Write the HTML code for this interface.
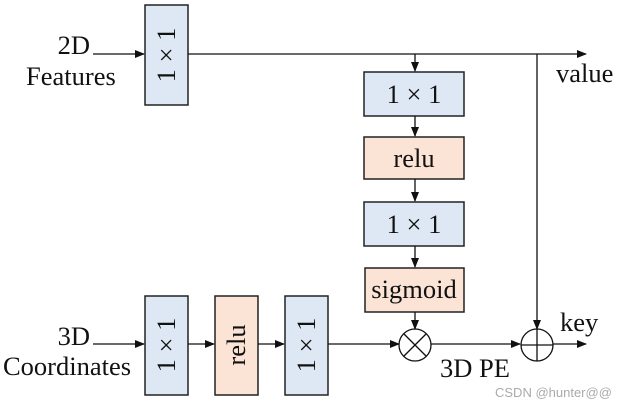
<!DOCTYPE html>
<html><head><style>body{margin:0;background:#fff}</style></head><body>
<svg width="622" height="407" viewBox="0 0 622 407" xmlns="http://www.w3.org/2000/svg" font-family="Liberation Serif, serif" font-size="26.5" fill="#111">
<defs><marker id="a" markerWidth="10" markerHeight="8" refX="9" refY="4" orient="auto" markerUnits="userSpaceOnUse"><path d="M0,0 L10,4 L0,8Z" fill="#111"/></marker></defs>
<g stroke="#222" stroke-width="1.5">
<rect x="145" y="5" width="43" height="100" fill="#dde8f4"/>
<rect x="364" y="72" width="100" height="44" fill="#dde8f4"/>
<rect x="364" y="137" width="100" height="42" fill="#fbe3d5"/>
<rect x="364" y="202" width="100" height="44" fill="#dde8f4"/>
<rect x="365" y="268" width="99" height="44" fill="#fbe3d5"/>
<rect x="145" y="296" width="43" height="99" fill="#dde8f4"/>
<rect x="215" y="296" width="43" height="99" fill="#fbe3d5"/>
<rect x="285" y="296" width="43" height="99" fill="#dde8f4"/>
</g>
<g stroke="#111" stroke-width="1.3" fill="none">
<line x1="93" y1="54" x2="144" y2="54" marker-end="url(#a)"/>
<line x1="188" y1="54" x2="586" y2="54" marker-end="url(#a)"/>
<line x1="415" y1="54" x2="415" y2="71" marker-end="url(#a)"/>
<line x1="415" y1="116" x2="415" y2="136" marker-end="url(#a)"/>
<line x1="415" y1="179" x2="415" y2="201" marker-end="url(#a)"/>
<line x1="415" y1="246" x2="415" y2="267" marker-end="url(#a)"/>
<line x1="415" y1="312" x2="415" y2="329" marker-end="url(#a)"/>
<line x1="537" y1="54" x2="537" y2="329" marker-end="url(#a)"/>
<line x1="93" y1="344" x2="144" y2="344" marker-end="url(#a)"/>
<line x1="188" y1="344" x2="214" y2="344" marker-end="url(#a)"/>
<line x1="258" y1="344" x2="284" y2="344" marker-end="url(#a)"/>
<line x1="328" y1="344" x2="399" y2="344" marker-end="url(#a)"/>
<line x1="431" y1="344" x2="520" y2="344" marker-end="url(#a)"/>
<line x1="553" y1="344" x2="586" y2="344" marker-end="url(#a)"/>
<circle cx="415" cy="345" r="16"/>
<line x1="404" y1="334" x2="426" y2="356"/><line x1="426" y1="334" x2="404" y2="356"/>
<circle cx="537" cy="345" r="16"/>
<line x1="521" y1="345" x2="553" y2="345"/><line x1="537" y1="329" x2="537" y2="361"/>
</g>
<text x="90" y="54" text-anchor="end">2D</text>
<text x="26" y="85">Features</text>
<text x="90" y="345" text-anchor="end">3D</text>
<text x="3" y="375">Coordinates</text>
<text x="556" y="82">value</text>
<text x="560" y="331">key</text>
<text x="440" y="377">3D PE</text>
<text x="414" y="103" text-anchor="middle">1 × 1</text>
<text x="414" y="167" text-anchor="middle">relu</text>
<text x="414" y="233" text-anchor="middle">1 × 1</text>
<text x="414" y="298" text-anchor="middle">sigmoid</text>
<text transform="translate(175,55) rotate(-90)" text-anchor="middle">1 × 1</text>
<text transform="translate(175,345) rotate(-90)" text-anchor="middle">1 × 1</text>
<text transform="translate(245,345) rotate(-90)" text-anchor="middle">relu</text>
<text transform="translate(315,345) rotate(-90)" text-anchor="middle">1 × 1</text>
<text x="495" y="397" font-family="Liberation Sans, sans-serif" font-size="13" fill="#aaa">CSDN @hunter@@</text>
</svg>
</body></html>
